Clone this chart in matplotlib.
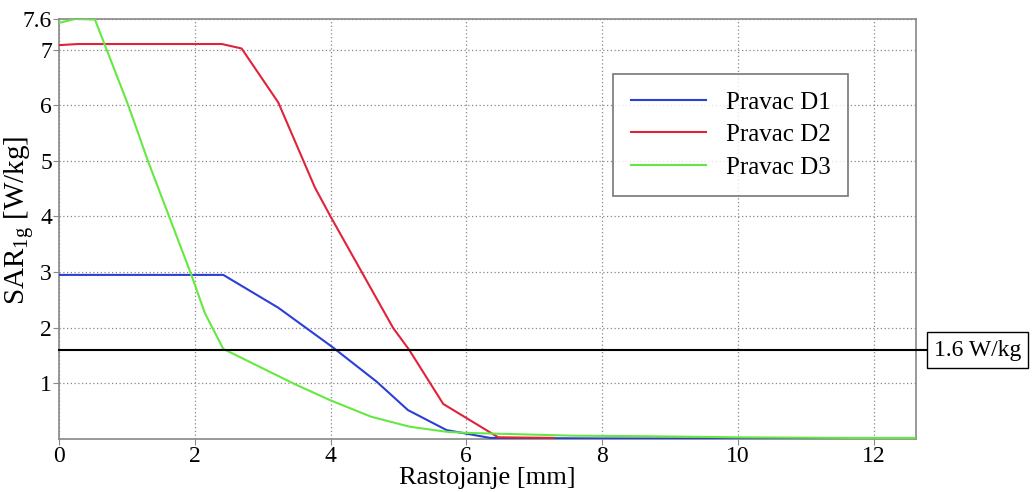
import matplotlib
matplotlib.use("Agg")
import matplotlib.pyplot as plt
import matplotlib.transforms as mtransforms

plt.rcParams['font.family'] = ['Liberation Serif', 'DejaVu Serif']
plt.rcParams['mathtext.fontset'] = 'custom'
plt.rcParams['mathtext.rm'] = 'Liberation Serif'

# Data
d1_x = [0.0, 2.42, 3.23, 4.02, 4.68, 5.14, 5.71, 6.35, 8.0, 10.0, 11.6]
d1_y = [2.95, 2.95, 2.36, 1.66, 1.03, 0.52, 0.16, 0.02, 0.01, 0.01, 0.01]

d2_x = [0.0, 0.28, 2.40, 2.69, 3.23, 3.77, 4.00, 4.46, 4.92, 5.16, 5.66, 6.47, 7.28]
d2_y = [7.08, 7.10, 7.10, 7.02, 6.05, 4.52, 4.00, 3.00, 2.00, 1.60, 0.63, 0.03, 0.02]

d3_x = [0.0, 0.24, 0.53, 1.02, 1.31, 1.95, 2.15, 2.42, 3.45, 3.99, 4.60, 5.17, 5.71,
        6.00, 7.57, 8.63, 10.0, 11.6, 12.62]
d3_y = [7.48, 7.55, 7.54, 6.00, 5.00, 2.95, 2.26, 1.62, 1.00, 0.70, 0.40, 0.22, 0.13,
        0.11, 0.06, 0.05, 0.03, 0.02, 0.02]

series_labels = ['Pravac D1', 'Pravac D2', 'Pravac D3']
limit_value = 1.6
limit_label = '1.6 W/kg'
x_ticks = [0, 2, 4, 6, 8, 10, 12]
y_ticks = [1, 2, 3, 4, 5, 6, 7, 7.55]
y_tick_labels = ['1', '2', '3', '4', '5', '6', '7', '7.6']

fig = plt.figure(figsize=(10.33, 4.92), dpi=100)
ax = fig.add_axes([0.0571, 0.1077, 0.8294, 0.8537])

c_blue = '#2b3fd6'
c_red = '#e0223a'
c_green = '#66e842'

ax.plot(d1_x, d1_y, color=c_blue, lw=1.5, label=series_labels[0], zorder=3)
ax.plot(d2_x, d2_y, color=c_red, lw=1.5, label=series_labels[1], zorder=3)
ax.plot(d3_x, d3_y, color=c_green, lw=1.5, label=series_labels[2], zorder=3)

trans = mtransforms.blended_transform_factory(ax.transAxes, ax.transData)
ax.plot([0, 1.012], [limit_value, limit_value], color='black', lw=1.5,
        transform=trans, clip_on=False, zorder=4)
ax.text(1.072, limit_value, limit_label, transform=trans, ha='center', va='center',
        fontsize=17, bbox=dict(boxstyle='square,pad=0.3', fc='white', ec='black', lw=1.0))

ax.set_xlim(0, 12.62)
ax.set_ylim(0, 7.55)
ax.set_xticks(x_ticks)
ax.set_yticks(y_ticks)
ax.set_yticklabels(y_tick_labels)
ax.tick_params(labelsize=17, length=4, color='#888888', pad=1)

ax.grid(True, linestyle=(0, (1, 2)), color='#888888', lw=0.9)
for s in ax.spines.values():
    s.set_color('#888888')
    s.set_linewidth(1.2)

ax.set_xlabel('Rastojanje [mm]', fontsize=19, labelpad=0)
ax.set_ylabel(r'SAR$_{\mathrm{1g}}$ [W/kg]', fontsize=21)
ax.yaxis.set_label_coords(-0.026, 0.52)

leg = ax.legend(loc='upper left', bbox_to_anchor=(0.647, 0.87), fontsize=18,
                handlelength=3.0, frameon=True, fancybox=False, borderpad=0.7,
                labelspacing=0.4, handletextpad=0.8, borderaxespad=0)
leg.get_frame().set_edgecolor('#555555')
leg.get_frame().set_linewidth(1.2)

fig.savefig('out.png', dpi=100)
